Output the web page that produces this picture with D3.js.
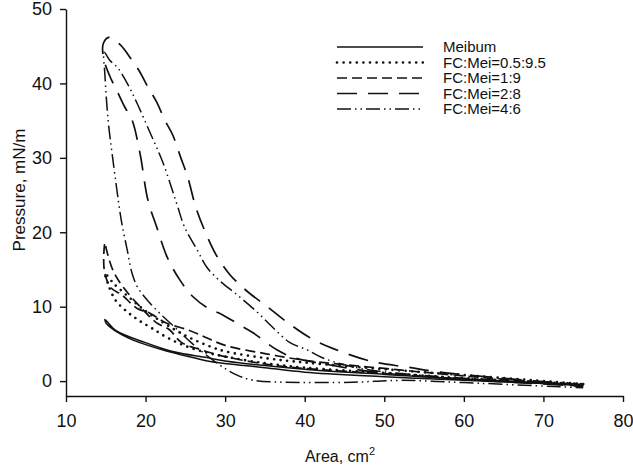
<!DOCTYPE html>
<html lang="en">
<head>
  <meta charset="UTF-8">
  <script src="https://cdn.jsdelivr.net/npm/d3@7"></script>
  <title>Pressure-area isotherms</title>
  <style>
    body { margin: 0; background: #fff; }
    svg { display: block; font-family: "Liberation Sans", Arial, sans-serif; }
  </style>
</head>
<body>
  <svg></svg>
</body>
<script>
const width = 633;
const height = 468;

// loops: compression from 75 cm2 down to ~15, then expansion back to 75
const meibum = [[75,-0.5],[60,0.3],[50,0.9],[40,1.6],[30,2.7],[27.5,3.2],[23.7,3.9],[19.9,5.2],[16.2,6.85],[14.9,8.3],
  [15.1,7.7],[17.8,5.8],[22.1,4.2],[26.2,3.1],[28.3,2.6],[35,1.8],[40,1.2],[50,0.6],[60,0.1],[75,-0.5]];
const fc05 = [[75,-0.4],[60,0.8],[50,1.6],[40,2.5],[35,3.1],[30,4.0],[28,4.7],[26,5.6],[24,6.7],[22,8.0],[20,9.4],[18,11.2],[16,13.1],[14.9,14.5],
  [15.2,13.3],[16.2,10.9],[17.7,9.3],[19.1,8.2],[20.8,7.1],[22.8,5.8],[25.3,4.6],[27.8,3.8],[30,3.3],[35,2.4],[40,1.8],[50,1.1],[60,0.4],[75,-0.4]];
const fc19 = [[75,-0.6],[60,0.7],[50,1.7],[40,2.8],[35,3.7],[30,4.8],[27.5,5.9],[25.3,6.9],[22.6,7.8],[20.6,9.1],[18.9,9.8],[17,11.6],[15.6,12.6],[14.8,15],[14.9,18.6],
  [15.1,17.6],[15.9,14.9],[17.2,12.6],[19.5,9.8],[21.3,7.9],[23,6.9],[24.5,5.2],[27,4.2],[30,3.3],[35,2.3],[40,1.7],[50,1.0],[60,0.3],[75,-0.6]];
const fc28 = [[75,-0.5],[57,1.2],[52.8,1.9],[48.6,2.6],[43.5,4.4],[40.7,5.8],[37.8,7.9],[35.3,10],[33.3,11.6],[32.2,12.6],[30.6,14.3],[28.9,16.9],[27.4,20.3],
  [26.3,23.4],[25.3,27.4],[24.4,30.1],[23.4,33.1],[22.4,35.1],[21.4,37.5],[20.3,39.5],[19.3,41.5],[18.3,43.1],[16.8,45.2],[15.4,46.2],[14.7,45.4],[14.7,43.5],
  [15.5,41],[16.5,38.8],[17.4,36.8],[18.3,35.1],[19.3,30.6],[20.3,24.3],[21.4,20.7],[22.7,16.7],[24.3,13.6],[26,11.3],[27.7,9.9],[29.7,8.9],[31.9,7.5],[33.5,6.5],
  [36.5,4.2],[38.5,3.2],[43,2.2],[49,1.2],[58,0.4],[75,-0.7]];
const fc46 = [[75,-0.7],[64.5,0.1],[54.5,0.8],[47,1.7],[42.3,3.1],[40.3,4.2],[38.1,5.2],[36,7.2],[34,9.3],[31.5,11.6],[29.3,13.5],[27.7,15.3],[26.5,17.6],[24.9,20.7],
  [23.9,23.9],[22.2,29.3],[20.6,33.3],[18.9,37.4],[17.8,39.8],[16.5,42.1],[15.5,43.1],[14.8,44.2],
  [14.9,41],[15.3,35],[15.9,29.7],[16.8,22.6],[17.1,20.7],[17.7,17.6],[18.3,14.5],[19,12.6],[20.2,10.9],[21.8,9.1],[23.7,7.2],[25.7,5.2],[29,2.4],[31.5,0.8],[33.6,0.1],
  [37.4,-0.15],[46,-0.15],[52,0.1],[60,-0.2],[75,-0.9]];

const seriesNames = ['Meibum', 'FC:Mei=0.5:9.5', 'FC:Mei=1:9', 'FC:Mei=2:8', 'FC:Mei=4:6'];
const seriesData = [meibum, fc05, fc19, fc28, fc46];
const xTicks = [10, 20, 30, 40, 50, 60, 70, 80];
const yTicks = [0, 10, 20, 30, 40, 50];

const styles = [
  { dash: null, cap: 'butt', w: 1.5 },
  { dash: '0 6.6', cap: 'round', w: 2.7 },
  { dash: '10 5', cap: 'butt', w: 1.7 },
  { dash: '20 11', cap: 'butt', w: 1.7 },
  { dash: '14 4 1.5 4 1.5 4', cap: 'butt', w: 1.5 }
];

const svg = d3.select('svg').attr('width', width).attr('height', height);

const xScale = d3.scaleLinear().domain([10, 80]).range([66, 623]);
const yScale = d3.scaleLinear().domain([-2, 50]).range([396, 9]);

const xAxis = d3.axisBottom(xScale).tickValues(xTicks).tickSize(6).tickSizeOuter(0).tickPadding(12);
const yAxis = d3.axisLeft(yScale).tickValues(yTicks).tickSize(6).tickSizeOuter(0).tickPadding(8);

const gx = svg.append('g').attr('transform', 'translate(0,396)').call(xAxis);
const gy = svg.append('g').attr('transform', 'translate(66,0)').call(yAxis);
[gx, gy].forEach(g => {
  g.selectAll('path, line').attr('stroke', '#111').attr('stroke-width', 1.4);
  g.selectAll('text').attr('fill', '#111').style('font-size', '18px');
});

svg.append('text')
  .attr('x', 340).attr('y', 462)
  .attr('text-anchor', 'middle')
  .style('font-size', '16px').attr('fill', '#111')
  .text('Area, cm')
  .append('tspan').attr('dy', -7).style('font-size', '11px').text('2');

svg.append('text')
  .attr('transform', 'translate(25,190) rotate(-90)')
  .attr('text-anchor', 'middle')
  .style('font-size', '17px').attr('fill', '#111')
  .text('Pressure, mN/m');

const line = d3.line().x(d => xScale(d[0])).y(d => yScale(d[1])).curve(d3.curveCatmullRom.alpha(0.5));

svg.append('g').selectAll('path')
  .data(seriesData)
  .enter()
  .append('path')
  .attr('d', d => line(d))
  .attr('fill', 'none')
  .attr('stroke', '#111')
  .attr('stroke-width', (d, i) => styles[i].w)
  .attr('stroke-linecap', (d, i) => styles[i].cap)
  .attr('stroke-dasharray', (d, i) => styles[i].dash);

// legend
const legend = svg.append('g');
const rows = legend.selectAll('g')
  .data(seriesNames)
  .enter()
  .append('g')
  .attr('transform', (d, i) => `translate(337, ${47 + i * 15.5})`);

rows.append('line')
  .attr('x1', 0).attr('x2', 86)
  .attr('stroke', '#111')
  .attr('stroke-width', (d, i) => styles[i].w)
  .attr('stroke-linecap', (d, i) => styles[i].cap)
  .attr('stroke-dasharray', (d, i) => styles[i].dash);

rows.append('text')
  .attr('x', 106).attr('y', 5)
  .style('font-size', '15px').attr('fill', '#111')
  .text(d => d);
</script>
</html>
